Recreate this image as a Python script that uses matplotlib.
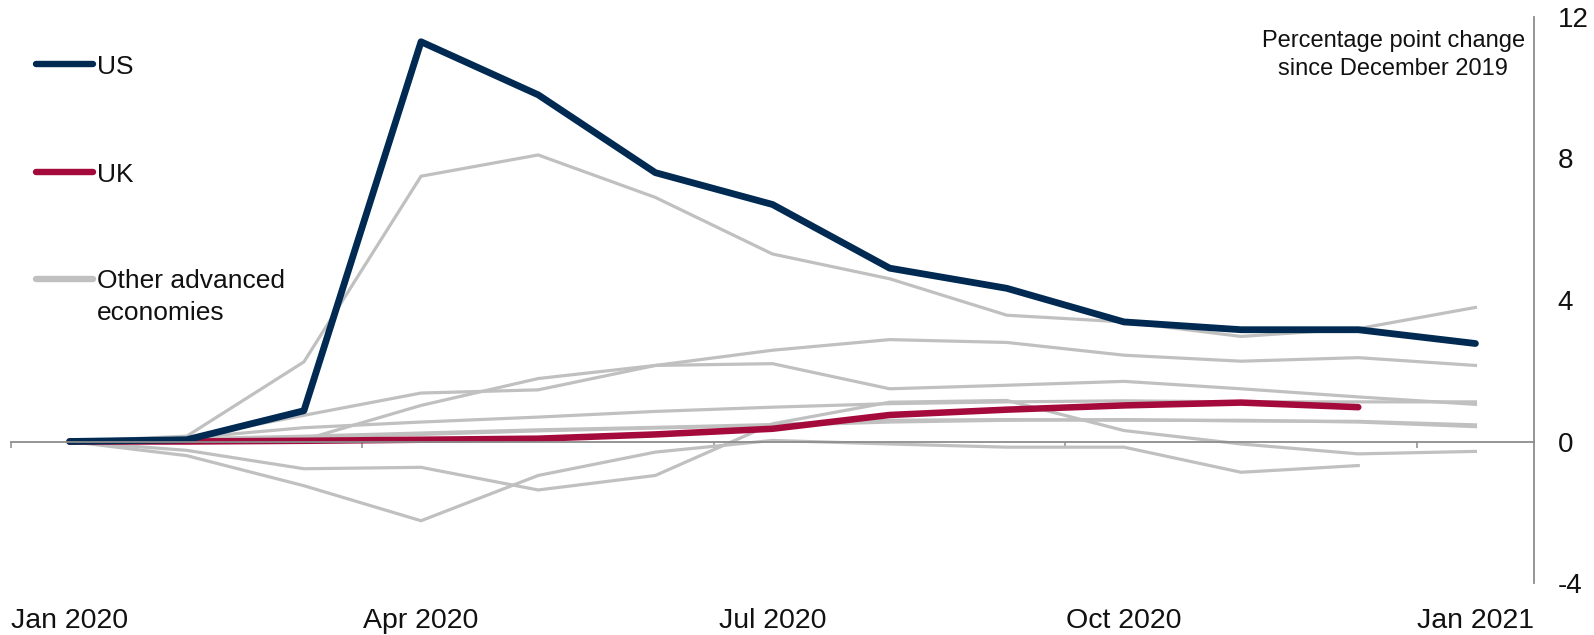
import numpy as np
import matplotlib
matplotlib.use("Agg")
import matplotlib.pyplot as plt
from matplotlib.lines import Line2D

plt.rcParams['font.family'] = ['Liberation Sans', 'DejaVu Sans']
plt.rcParams['axes.unicode_minus'] = False

W, H = 1594, 635  # output size in pixels

month_labels = ["Jan 2020", "Apr 2020", "Jul 2020", "Oct 2020", "Jan 2021"]
label_pos = [0, 3, 6, 9, 12]

# percentage point change since December 2019, Jan 2020 .. Jan 2021
us = [0, 0.05, 0.87, 11.3, 9.8, 7.6, 6.7, 4.9, 4.33, 3.38, 3.16, 3.16, 2.77]
uk = [0, 0.0, 0.02, 0.05, 0.08, 0.2, 0.36, 0.75, 0.9, 1.02, 1.1, 0.97]

others = [
    [0, 0.15, 2.25, 7.5, 8.1, 6.9, 5.3, 4.6, 3.57, 3.38, 2.97, 3.19, 3.79],
    [0, 0.0, 0.05, 1.02, 1.78, 2.15, 2.58, 2.88, 2.8, 2.44, 2.27, 2.37, 2.15],
    [0, 0.1, 0.74, 1.37, 1.46, 2.15, 2.2, 1.49, 1.59, 1.7, 1.49, 1.26, 1.05],
    [0, 0.1, 0.39, 0.55, 0.69, 0.85, 0.97, 1.07, 1.12, 1.15, 1.12, 1.12, 1.12],
    [0, 0.05, 0.12, 0.2, 0.3, 0.38, 0.45, 0.55, 0.6, 0.62, 0.58, 0.57, 0.47],
    [0, 0.08, 0.15, 0.24, 0.33, 0.4, 0.48, 0.6, 0.62, 0.6, 0.6, 0.55, 0.42],
    [0, -0.4, -1.25, -2.24, -0.96, -0.3, 0.03, -0.07, -0.16, -0.16, -0.87, -0.68],
    [0, -0.25, -0.77, -0.73, -1.37, -0.96, 0.5, 1.11, 1.16, 0.31, -0.07, -0.35, -0.28],
]

US_COL = '#002a52'
UK_COL = '#a50a3c'
GREY = '#c0c0c0'
AXIS_COL = '#8c8c8c'


def fx(px):
    return px / W


def fy(py):
    return 1 - py / H


fig = plt.figure(figsize=(W / 100, H / 100), dpi=100)
ax = fig.add_axes([fx(11), fy(583), fx(1534 - 11), (583 - 17) / H])

for serie in others:
    ax.plot(np.arange(len(serie)), serie, color=GREY, lw=2.3, solid_joinstyle='miter')
ax.plot(np.arange(len(uk)), uk, color=UK_COL, lw=4.7, solid_capstyle='round')
ax.plot(np.arange(len(us)), us, color=US_COL, lw=4.9, solid_capstyle='round')

ax.set_xlim(-0.5, 12.5)
ax.set_ylim(-4, 12)

# spines: zero line and right axis only
for s in ['top', 'left']:
    ax.spines[s].set_visible(False)
ax.spines['bottom'].set_position(('data', 0))
ax.spines['bottom'].set_color(AXIS_COL)
ax.spines['bottom'].set_linewidth(1.3)
ax.spines['right'].set_color(AXIS_COL)
ax.spines['right'].set_linewidth(1.3)

ax.set_xticks([-0.5, 2.5, 5.5, 8.5, 11.5])
ax.tick_params(axis='x', direction='out', length=4.5, width=1.1, color=AXIS_COL, labelbottom=False)

ax.yaxis.tick_right()
ax.set_yticks([-4, 0, 4, 8, 12])
ax.tick_params(axis='y', length=0, pad=17, labelsize=20, labelcolor='#111111')

for pos, lab in zip(label_pos, month_labels):
    ax.text(pos, -0.0795, lab, transform=ax.get_xaxis_transform(),
            ha='center', va='baseline', fontsize=20.5, color='#111111')

ax.text(11.3, 11.64, "Percentage point change\nsince December 2019",
        ha='center', va='top', fontsize=17, linespacing=1.39, color='#111111')

# legend drawn by hand, line samples on the left (baseline = last text line)
legend_items = [(US_COL, "US", 64, 73.5),
                (UK_COL, "UK", 172, 181.7),
                (GREY, "Other advanced\neconomies", 279, 320)]
for col, lab, ly, base in legend_items:
    fig.add_artist(Line2D([fx(36), fx(93)], [fy(ly), fy(ly)], color=col, lw=4.6,
                          solid_capstyle='round'))
    fig.text(fx(97), fy(base), lab, ha='left', va='baseline', fontsize=19,
             linespacing=1.4, color='#111111')

fig.savefig('out.png', dpi=100)
